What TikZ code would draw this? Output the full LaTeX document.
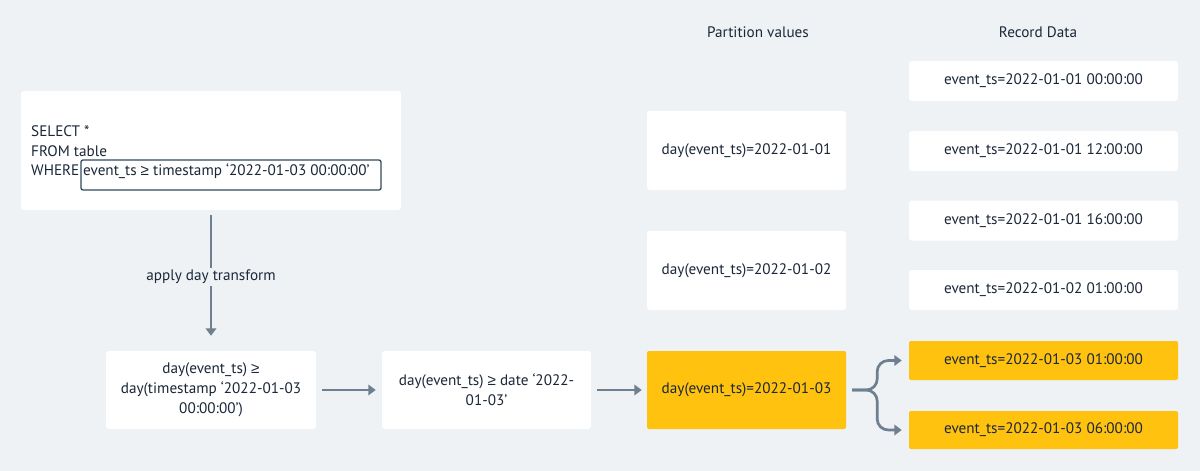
\documentclass[tikz,border=0pt]{standalone}
\usepackage{fontspec}
\setmainfont{PT Sans}
\newfontfamily\symfont{Liberation Sans}
\newcommand\gesym{{\symfont ≥}}
\usetikzlibrary{arrows.meta}
\definecolor{bg}{HTML}{EEF2F5}
\definecolor{ink}{HTML}{1B2738}
\definecolor{arr}{HTML}{6E8090}
\definecolor{gold}{HTML}{FFC20E}
\definecolor{frame}{HTML}{2E4A5C}
\begin{document}
\begin{tikzpicture}[x=1pt,y=-1pt,
  font=\fontsize{15.2}{20}\selectfont, text=ink,
  card/.style={fill=white, rounded corners=3pt, inner sep=0pt, align=center},
  hot/.style={fill=gold, rounded corners=2pt, inner sep=0pt, align=center},
  sqlline/.style={anchor=base west, inner sep=0pt},
  flow/.style={draw=arr, line width=2.7pt, -{Triangle[length=7.5pt,width=10.5pt]}},
  head/.style={inner sep=0pt}]
\fill[bg] (0,0) rectangle (1200,471);
\useasboundingbox (0,0) rectangle (1200,471);

% headers
\node[head] (hp) at (758,32) {Partition values};
\node[head] (hr) at (1038,32) {Record Data};

% SQL box
\node[card, minimum width=380, minimum height=119] (sql) at (211,150.5) {};
\node[sqlline] (l1) at (31,136) {SELECT *};
\node[sqlline] (l2) at (31,156) {FROM table};
\node[sqlline] (l3) at (31,175.5) {WHERE};
\node[draw=frame, line width=1.3pt, rounded corners=2pt, minimum width=300, minimum height=30, inner sep=0pt] (hl) at (231,175) {};
\node[sqlline] (cond) at (83,175.5) {event\_ts \gesym{} timestamp ‘2022-01-03 00:00:00’};

% transform boxes
\node[card, minimum width=210, minimum height=78] (b1) at (211,390) {day(event\_ts) \gesym\\day(timestamp ‘2022-01-03\\00:00:00’)};
\node[card, minimum width=209, minimum height=78] (b2) at (486.5,390) {day(event\_ts) \gesym{} date ‘2022-\\01-03’};

% partition boxes
\node[card, minimum width=199, minimum height=79] (p1) at (746.5,150.5) {day(event\_ts)=2022-01-01};
\node[card, minimum width=199, minimum height=79] (p2) at (746.5,270.5) {day(event\_ts)=2022-01-02};
\node[hot, minimum width=199, minimum height=78] (p3) at (746.5,390) {day(event\_ts)=2022-01-03};

% record boxes
\node[card, minimum width=269, minimum height=40] (r1) at (1043.5,81) {event\_ts=2022-01-01 00:00:00};
\node[card, minimum width=269, minimum height=40] (r2) at (1043.5,151) {event\_ts=2022-01-01 12:00:00};
\node[card, minimum width=269, minimum height=40] (r3) at (1043.5,220.5) {event\_ts=2022-01-01 16:00:00};
\node[card, minimum width=269, minimum height=40] (r4) at (1043.5,290) {event\_ts=2022-01-02 01:00:00};
\node[hot, minimum width=269, minimum height=39] (r5) at (1043.5,360.5) {event\_ts=2022-01-03 01:00:00};
\node[hot, minimum width=269, minimum height=38] (r6) at (1043.5,430) {event\_ts=2022-01-03 06:00:00};

% connectors
\draw[flow] ([yshift=-5pt]sql.south) -- ([yshift=15pt]b1.north);
\node[fill=bg, inner sep=2pt] (lab) at (211,277) {apply day transform};
\draw[flow] ([xshift=6pt]b1.east) -- ([xshift=-6pt]b2.west);
\draw[flow] ([xshift=6pt]b2.east) -- ([xshift=-5pt]p3.west);
\draw[flow, rounded corners=11pt] ([xshift=6pt]p3.east) -- ++(25,0) |- ([xshift=-7pt]r5.west);
\draw[flow, rounded corners=11pt] ([xshift=6pt]p3.east) -- ++(25,0) |- ([xshift=-7pt]r6.west);
\end{tikzpicture}
\end{document}
